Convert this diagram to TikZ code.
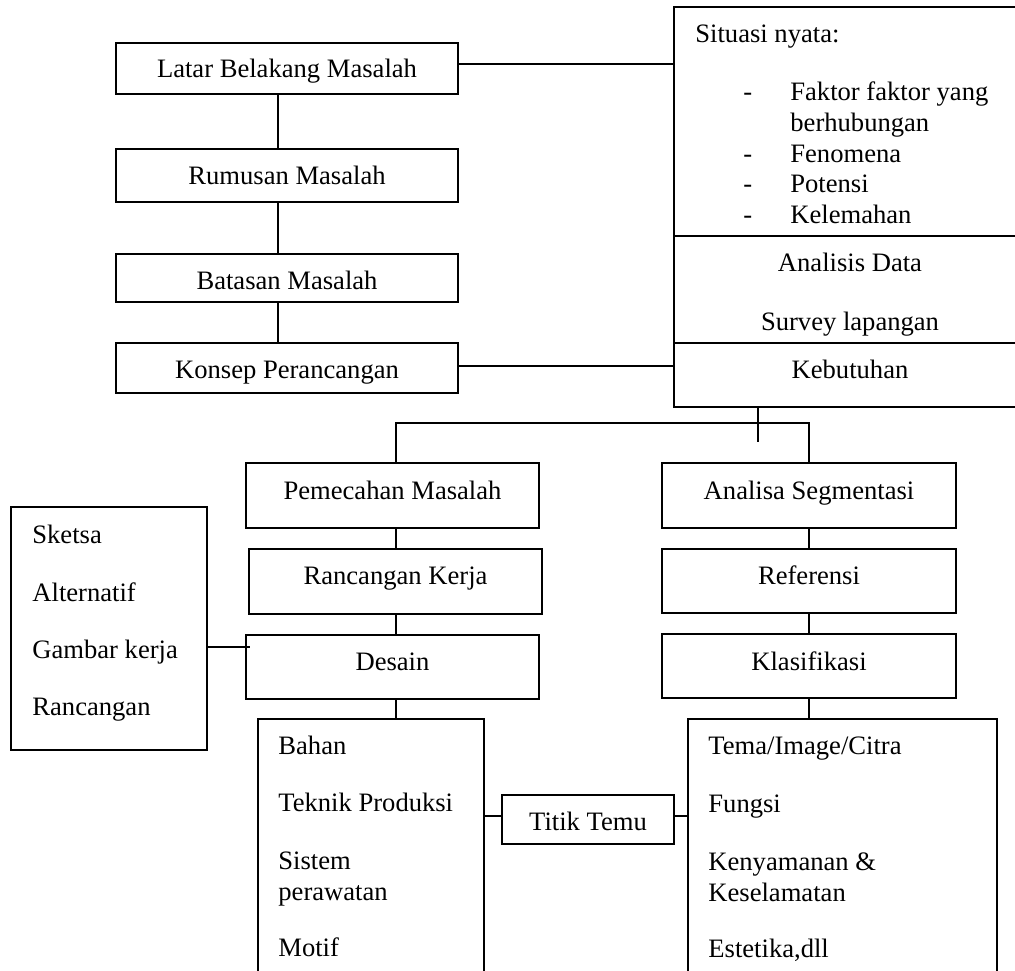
\documentclass[tikz,border=0pt]{standalone}
\usepackage{fontspec}
\setmainfont{Liberation Serif}
\newcommand\fsz{\fontsize{13.3}{15.35}\selectfont}
\newcommand\boxnode[7]{\node[box,#1,minimum width={(#5-#3)*0.5pt},minimum height={(#6-#4)*0.5pt}] (#2) at ({(#3+#5)/2},{(#4+#6)/2}) {#7};}
\tikzset{
  box/.style={draw, line width=1pt, inner sep=0pt, outer sep=0pt, text height=11pt, text depth=2.2pt, font=\fsz},
  txt/.style={inner sep=0pt, font=\fsz},
  conn/.style={line width=1pt}
}
\begin{document}
\begin{tikzpicture}[x=0.5pt,y=-0.5pt]
\useasboundingbox (0,0) rectangle (1015,970);
\clip (0,0) rectangle (1015,970);
% left column
\boxnode{}{latar}{116}{43}{458}{94}{Latar Belakang Masalah}
\boxnode{}{rumusan}{116}{149}{458}{202}{Rumusan Masalah}
\boxnode{text height=14pt}{batasan}{116}{254}{458}{302}{Batasan Masalah}
\boxnode{text height=13pt}{konsep}{116}{343}{458}{393}{Konsep Perancangan}
% right top box
\boxnode{}{situasi}{674}{7}{1026}{236}{}
\boxnode{}{analisis}{674}{236}{1026}{343}{}
\boxnode{text depth=7.2pt}{kebutuhan}{674}{343}{1026}{407}{Kebutuhan}
\node[txt, anchor=base west] (sitjudul) at (695,42) {Situasi nyata:};
\node[txt, anchor=base west] (sitlist) at (743,100.8) {\begin{tabular}[t]{@{}p{23.5pt}@{}l@{}}-&Faktor faktor yang\\&berhubungan\\-&Fenomena\\-&Potensi\\-&Kelemahan\end{tabular}};
\node[txt, anchor=base] (analtxt) at (850,271.8) {\begin{tabular}[t]{@{}c@{}}Analisis Data\\[14.15pt]Survey lapangan\end{tabular}};
% middle columns
\boxnode{text depth=6.7pt}{pemecahan}{246}{463}{539}{528}{Pemecahan Masalah}
\boxnode{text depth=7.7pt}{rancangan}{249}{549}{542}{614}{Rancangan Kerja}
\boxnode{text depth=7.2pt}{desain}{246}{635}{539}{699}{Desain}
\boxnode{text depth=6.7pt}{analisa}{662}{463}{956}{528}{Analisa Segmentasi}
\boxnode{text depth=7.2pt}{referensi}{662}{549}{956}{613}{Referensi}
\boxnode{text depth=6.2pt}{klasifikasi}{662}{634}{956}{698}{Klasifikasi}
% sketsa box
\boxnode{}{sketsa}{11}{507}{207}{750}{}
\node[txt, anchor=base west] (sketsatxt) at (32,543.8) {\begin{tabular}[t]{@{}l@{}}Sketsa\\[13.3pt]Alternatif\\[13.3pt]Gambar kerja\\[13.3pt]Rancangan\end{tabular}};
% bottom boxes
\boxnode{}{bahanbox}{258}{719}{484}{995}{}
\node[txt, anchor=base west] (bahantxt) at (278,754.8) {\begin{tabular}[t]{@{}l@{}}Bahan\\[13.2pt]Teknik Produksi\\[13.65pt]Sistem\\perawatan\\[12.65pt]Motif\end{tabular}};
\boxnode{text height=13.5pt}{titik}{502}{795}{674}{844}{Titik Temu}
\boxnode{}{temabox}{688}{719}{997}{995}{}
\node[txt, anchor=base west] (tematxt) at (708,754.8) {\begin{tabular}[t]{@{}l@{}}Tema/Image/Citra\\[13.65pt]Fungsi\\[13.65pt]Kenyamanan \&\\Keselamatan\\[12.65pt]Estetika,dll\end{tabular}};
% connectors
\coordinate (spine) at (278,0);
\draw[conn] (latar.south -| spine) -- (rumusan.north -| spine);
\draw[conn] (rumusan.south -| spine) -- (batasan.north -| spine);
\draw[conn] (batasan.south -| spine) -- (konsep.north -| spine);
\coordinate (lj) at ([yshift=2.25pt]latar.east);
\draw[conn] (lj) -- (lj -| situasi.west);
\coordinate (kj) at ([yshift=1pt]konsep.east);
\draw[conn] (kj) -- (kj -| kebutuhan.west);
\coordinate (stub) at (758,442);
\draw[conn] (kebutuhan.south -| stub) -- (stub);
\coordinate (lx) at (396,423);
\coordinate (rx) at (809,423);
\draw[conn] (pemecahan.north -| lx) -- (lx) -- (rx) -- (analisa.north);
\draw[conn] (pemecahan.south -| lx) -- (rancangan.north -| lx);
\draw[conn] (rancangan.south -| lx) -- (desain.north -| lx);
\draw[conn] (desain.south -| lx) -- (bahanbox.north -| lx);
\draw[conn] (analisa.south) -- (referensi.north);
\draw[conn] (referensi.south) -- (klasifikasi.north);
\draw[conn] (klasifikasi.south) -- (temabox.north -| klasifikasi.south);
\coordinate (dj) at ([yshift=10pt,xshift=2pt]desain.west);
\draw[conn] (dj -| sketsa.east) -- (dj);
\coordinate (tj) at ([yshift=1.75pt]titik.west);
\draw[conn] (tj -| bahanbox.east) -- (tj);
\coordinate (tj2) at ([yshift=1.75pt]titik.east);
\draw[conn] (tj2) -- (tj2 -| temabox.west);
\end{tikzpicture}
\end{document}
